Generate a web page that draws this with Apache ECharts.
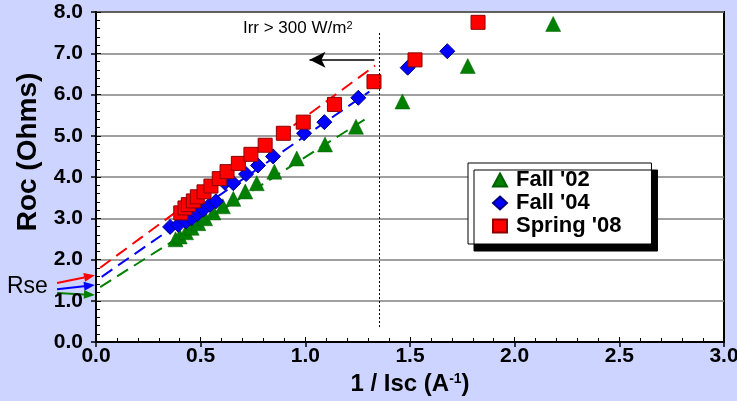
<!DOCTYPE html>
<html>
<head>
<meta charset="utf-8">
<script src="https://cdn.jsdelivr.net/npm/echarts@6/dist/echarts.min.js"></script>
<style>
  html, body { margin: 0; padding: 0; background: #ccd4ff; }
  #rocChart { width: 737px; height: 401px; }
</style>
</head>
<body>
<div id="rocChart"></div>
<script>
// data
const seriesNames = ['Fall \'02', 'Fall \'04', 'Spring \'08']

const xFall02 = [0.38, 0.40, 0.43, 0.457, 0.489, 0.521, 0.561, 0.606, 0.656, 0.713, 0.768, 0.852, 0.959, 1.094, 1.242, 1.464, 1.776, 2.184]
const yFall02 = [2.49, 2.56, 2.66, 2.77, 2.88, 3.00, 3.14, 3.29, 3.47, 3.65, 3.85, 4.13, 4.45, 4.79, 5.22, 5.83, 6.69, 7.71]

const xFall04 = [0.354, 0.393, 0.43, 0.457, 0.484, 0.513, 0.545, 0.573, 0.616, 0.656, 0.717, 0.774, 0.846, 0.994, 1.091, 1.253, 1.489, 1.678]
const yFall04 = [2.79, 2.84, 2.92, 3.00, 3.10, 3.21, 3.33, 3.41, 3.86, 3.85, 4.07, 4.28, 4.50, 5.06, 5.33, 5.92, 6.65, 7.05]

const xSpring08 = [0.405, 0.425, 0.441, 0.465, 0.484, 0.516, 0.549, 0.589, 0.626, 0.68, 0.74, 0.808, 0.895, 0.99, 1.139, 1.328, 1.524, 1.825]
const ySpring08 = [3.13, 3.25, 3.33, 3.42, 3.52, 3.64, 3.78, 3.96, 4.13, 4.33, 4.55, 4.77, 5.06, 5.33, 5.76, 6.31, 6.84, 7.75]

// dashed fit lines (end points)
const fitX02 = [0.02, 1.31], fitY02 = [1.33, 5.48]
const fitX04 = [0.027, 1.306], fitY04 = [1.58, 6.07]
const fitX08 = [0.02, 1.333], fitY08 = [1.80, 6.70]

// Rse arrows (start outside the axis, tip at x = 0)
const rseX = [-0.186, -0.005]
const rseY02 = [1.19, 1.14]
const rseY04 = [1.28, 1.38]
const rseY08 = [1.43, 1.62]

// irradiance cut-off
const cutX = 1.352, cutY = [7.49, 0.34]
const arrowX = [1.33, 1.02], arrowY = 6.84

const xTicks = { min: 0, max: 3, interval: 0.5 }
const yTicks = { min: 0, max: 8, interval: 1 }

const font = 'Liberation Sans, Arial, sans-serif'
const green = '#008000', blue = '#0000ff', red = '#ff0000'

const zip = (xs, ys) => xs.map((x, i) => [x, ys[i]])

const chart = echarts.init(document.getElementById('rocChart'))

const fitLine = (xs, ys, color) => ({
  type: 'line',
  data: zip(xs, ys),
  showSymbol: false,
  silent: true,
  lineStyle: { color: color, width: 2, type: [13, 7] },
  z: 1,
})

let option = {
  backgroundColor: '#ccd4ff',
  animation: false,
  grid: {
    left: 96, right: 13, top: 12, bottom: 59,
    show: true, backgroundColor: '#fff', borderColor: '#000', borderWidth: 2,
    outerBoundsMode: 'none',
  },
  legend: {
    data: seriesNames,
    orient: 'vertical',
    left: 468, top: 163,
    padding: [6, 30, 7, 24],
    itemGap: 1,
    itemWidth: 14, itemHeight: 13,
    selectedMode: false,
    backgroundColor: '#fff',
    borderColor: '#000', borderWidth: 1, borderRadius: 0,
    shadowColor: '#000', shadowBlur: 0, shadowOffsetX: 6, shadowOffsetY: 7,
    textStyle: { fontFamily: font, fontSize: 22, fontWeight: 'bold', color: '#000', lineHeight: 22, padding: [0, 0, 0, 4] },
  },
  xAxis: [
    {
      type: 'value', ...xTicks,
      name: '1 / Isc (A{sup|-1})',
      nameLocation: 'middle', nameGap: 28,
      nameTextStyle: {
        fontFamily: font, fontSize: 24, fontWeight: 'bold', color: '#000',
        rich: { sup: { fontFamily: font, fontSize: 14, fontWeight: 'bold', color: '#000', verticalAlign: 'top' } },
      },
      axisLine: { lineStyle: { color: '#000', width: 2 } },
      axisTick: { inside: true, length: 5, lineStyle: { color: '#000' } },
      minorTick: { show: true, splitNumber: 5, length: 4, lineStyle: { color: '#000' } },
      splitLine: { show: false },
      axisLabel: {
        margin: 4, showMinLabel: true, showMaxLabel: true,
        fontFamily: font, fontSize: 21, fontWeight: 'bold', color: '#000',
        formatter: (v) => v.toFixed(1),
      },
    },
    {
      type: 'value', ...xTicks, position: 'bottom',
      axisLine: { show: false }, axisLabel: { show: false }, splitLine: { show: false },
      axisTick: { show: true, length: 5, lineStyle: { color: '#000', width: 1.5 } },
    },
  ],
  yAxis: [
    {
      type: 'value', ...yTicks,
      axisLine: { show: true, lineStyle: { color: '#000', width: 2 } },
      axisTick: { show: true, inside: true, length: 5, lineStyle: { color: '#000' } },
      minorTick: { show: true, splitNumber: 5, length: 4, lineStyle: { color: '#000' } },
      splitLine: { lineStyle: { color: '#808080', width: 1.5 } },
      axisLabel: {
        margin: 13, showMinLabel: true, showMaxLabel: true,
        fontFamily: font, fontSize: 21, fontWeight: 'bold', color: '#000',
        formatter: (v) => v.toFixed(1),
      },
    },
    {
      type: 'value', ...yTicks, position: 'left',
      axisLine: { show: false }, axisLabel: { show: false }, splitLine: { show: false },
      axisTick: { show: true, length: 5, lineStyle: { color: '#000', width: 1.5 } },
    },
  ],
  series: [
    fitLine(fitX02, fitY02, green),
    fitLine(fitX04, fitY04, blue),
    fitLine(fitX08, fitY08, red),
    {
      name: seriesNames[0], type: 'scatter',
      data: zip(xFall02, yFall02),
      symbol: 'triangle', symbolSize: 15,
      itemStyle: { color: green, borderColor: '#006000', borderWidth: 0.5, opacity: 1 },
      markLine: {
        silent: true, animation: false,
        label: { show: false },
        data: [
          [
            { coord: [cutX, cutY[0]], symbol: 'none', lineStyle: { color: '#000', width: 1, type: [2, 2] } },
            { coord: [cutX, cutY[1]], symbol: 'none' },
          ],
          [
            { coord: [arrowX[0], arrowY], symbol: 'none', lineStyle: { color: '#000', width: 1.5, type: 'solid' } },
            { coord: [arrowX[1], arrowY], symbol: 'arrow', symbolSize: [12, 16] },
          ],
        ],
      },
    },
    {
      name: seriesNames[1], type: 'scatter',
      data: zip(xFall04, yFall04),
      symbol: 'diamond', symbolSize: 15,
      itemStyle: { color: blue, borderColor: '#000080', borderWidth: 1, opacity: 1 },
    },
    {
      name: seriesNames[2], type: 'scatter',
      data: zip(xSpring08, ySpring08),
      symbol: 'rect', symbolSize: 14,
      itemStyle: { color: red, borderColor: '#8b0000', borderWidth: 1, opacity: 1 },
    },
  ],
}

chart.setOption(option)

// overlays positioned through the chart's own scales
const toPx = (pt) => chart.convertToPixel({ gridIndex: 0 }, pt)

const arrowShape = (p0, p1, color) => {
  const dx = p1[0] - p0[0], dy = p1[1] - p0[1]
  const len = Math.hypot(dx, dy), ux = dx / len, uy = dy / len
  const hl = 11, hw = 4.5
  const bx = p1[0] - ux * hl, by = p1[1] - uy * hl
  return [
    { type: 'line', silent: true, shape: { x1: p0[0], y1: p0[1], x2: bx, y2: by }, style: { stroke: color, lineWidth: 2 } },
    {
      type: 'polygon', silent: true,
      shape: { points: [p1, [bx - uy * hw, by + ux * hw], [bx + uy * hw, by - ux * hw]] },
      style: { fill: color },
    },
  ]
}

const irrPos = toPx([0.702, 7.6])

chart.setOption({
  graphic: [
    ...arrowShape(toPx([rseX[0], rseY08[0]]), toPx([rseX[1], rseY08[1]]), red),
    ...arrowShape(toPx([rseX[0], rseY04[0]]), toPx([rseX[1], rseY04[1]]), blue),
    ...arrowShape(toPx([rseX[0], rseY02[0]]), toPx([rseX[1], rseY02[1]]), green),
    {
      type: 'text', left: 7, top: 275,
      style: { text: 'Rse', fontFamily: font, fontSize: 23, fill: '#000' },
    },
    {
      type: 'text', x: irrPos[0], y: irrPos[1],
      style: {
        text: 'Irr > 300 W/m{sup|2}',
        fontFamily: font, fontSize: 17, fill: '#000',
        verticalAlign: 'middle', align: 'left',
        rich: { sup: { fontFamily: font, fontSize: 11, fill: '#000', verticalAlign: 'top' } },
      },
    },
    {
      type: 'text', x: 28, y: 152, rotation: Math.PI / 2,
      style: {
        text: 'Roc (Ohms)', fontFamily: font, fontSize: 28, fontWeight: 'bold', fill: '#000',
        align: 'center', verticalAlign: 'middle',
      },
    },
  ],
})
</script>
</body>
</html>
